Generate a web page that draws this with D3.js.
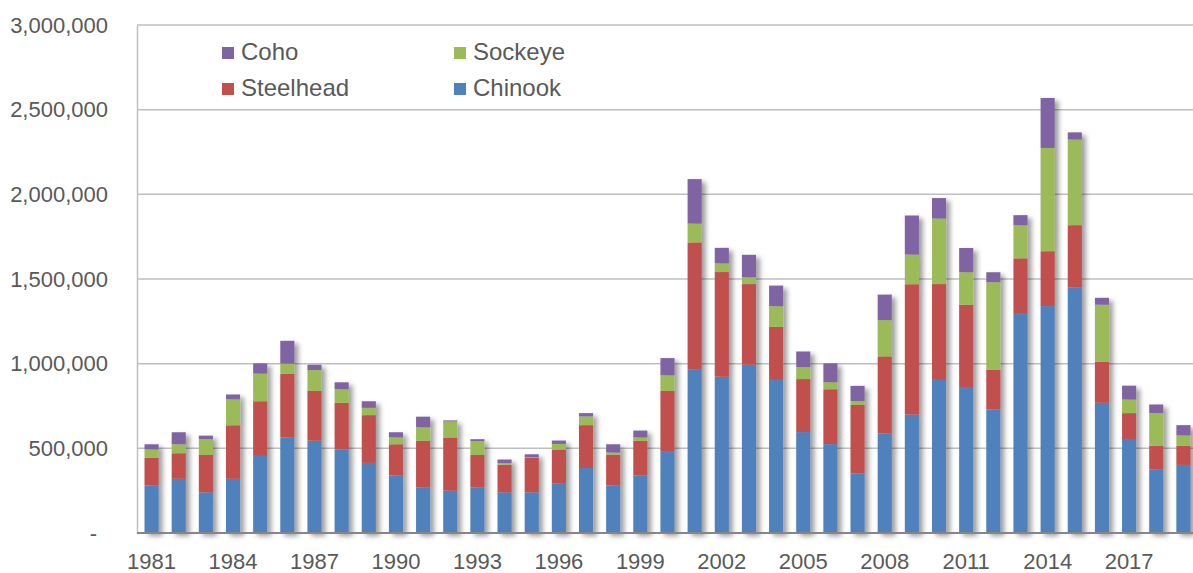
<!DOCTYPE html>
<html>
<head>
<meta charset="utf-8">
<script src="https://cdn.jsdelivr.net/npm/d3@7"></script>
<style>
  body { margin: 0; background: #fff; }
  text { font-family: "Liberation Sans", Arial, sans-serif; fill: #595959; }
</style>
</head>
<body>
<div id="chart"></div>
<script>

var years = [];
for (var yr = 1981; yr <= 2019; yr++) { years.push(yr); }

var chinook   = [281, 320, 240, 320, 455, 565, 545, 494, 414, 340, 270, 250, 270, 240, 240, 291, 384, 281, 340, 484,
                 964, 923, 994, 904, 596, 525, 352, 588, 699, 904, 862, 730, 1299, 1340, 1451, 769, 555, 374, 402];
var steelhead = [163, 151, 221, 316, 323, 376, 294, 274, 282, 184, 274, 314, 191, 163, 206, 202, 253, 180, 204, 355,
                 752, 618, 476, 313, 313, 324, 404, 455, 770, 566, 486, 233, 323, 324, 367, 242, 153, 141, 113];
var sockeye   = [49, 53, 93, 153, 163, 59, 123, 81, 43, 40, 80, 94, 81, 10, 2, 33, 51, 14, 20, 92,
                 111, 51, 40, 122, 71, 41, 23, 214, 175, 387, 192, 518, 195, 610, 505, 337, 80, 193, 61];
var coho      = [31, 71, 21, 29, 61, 135, 32, 41, 39, 31, 63, 7, 12, 21, 17, 20, 20, 49, 41, 102,
                 263, 92, 133, 122, 92, 112, 90, 151, 231, 121, 143, 59, 60, 295, 43, 41, 82, 51, 61];

var seriesNames = ["Chinook", "Steelhead", "Sockeye", "Coho"];
var colors = ["#4F81BD", "#C0504D", "#9BBB59", "#8064A2"];
var yTicks = [0, 500000, 1000000, 1500000, 2000000, 2500000, 3000000];

var width = 1193;
var height = 573;

var rows = [];
for (var i = 0; i < years.length; i++) {
    rows.push({
        year: years[i],
        Chinook: chinook[i] * 1000,
        Steelhead: steelhead[i] * 1000,
        Sockeye: sockeye[i] * 1000,
        Coho: coho[i] * 1000
    });
}

var stacked = d3.stack().keys(seriesNames)(rows);

var xScale = d3.scaleBand()
  .domain(years)
  .range([138, 1197])
  .paddingInner(0.48)
  .paddingOuter(0.24);

var yScale = d3.scaleLinear()
  .domain([0, 3000000])
  .range([533, 25]);

var svg = d3.select("#chart")
        .append("svg")
        .attr("width", width)
        .attr("height", height);

// drop shadow like the office chart
var filter = svg.append("defs").append("filter")
    .attr("id", "shadow")
    .attr("x", "-20%").attr("y", "-5%")
    .attr("width", "160%").attr("height", "115%");
filter.append("feDropShadow")
    .attr("dx", 4).attr("dy", 3)
    .attr("stdDeviation", 2.5)
    .attr("flood-color", "#000")
    .attr("flood-opacity", 0.38);

// gridlines
svg.append("g")
    .selectAll("line")
    .data(yTicks.slice(1))
    .enter()
    .append("line")
    .attr("x1", 137)
    .attr("x2", width)
    .attr("y1", function(d) { return yScale(d); })
    .attr("y2", function(d) { return yScale(d); })
    .attr("stroke", "#bfbfbf")
    .attr("stroke-width", 1.5);

// left axis
var leftAxis = d3.axisLeft(yScale)
    .tickValues(yTicks)
    .tickSize(0)
    .tickPadding(29)
    .tickFormat(function(d) { return d === 0 ? "-" : d3.format(",")(d); });

var yAxisG = svg.append("g")
    .attr("transform", "translate(137,0)")
    .call(leftAxis);
yAxisG.select(".domain").attr("stroke", "#bfbfbf").attr("stroke-width", 1.5);
yAxisG.selectAll("text")
    .style("font-size", "22px")
    .attr("fill", "#595959");
yAxisG.selectAll(".tick")
    .filter(function(d) { return d === 0; })
    .select("text")
    .attr("x", -40);

// bars
var barsG = svg.append("g").attr("filter", "url(#shadow)");
barsG.selectAll("g")
    .data(stacked)
    .enter()
    .append("g")
    .attr("fill", function(d, i) { return colors[i]; })
    .selectAll("rect")
    .data(function(d) { return d; })
    .enter()
    .append("rect")
    .attr("x", function(d) { return xScale(d.data.year); })
    .attr("y", function(d) { return yScale(d[1]); })
    .attr("width", xScale.bandwidth())
    .attr("height", function(d) { return yScale(d[0]) - yScale(d[1]); });

// bottom axis
var bottomAxis = d3.axisBottom(xScale)
    .tickValues(years.filter(function(d, i) { return i % 3 === 0; }))
    .tickSize(0)
    .tickPadding(20);

var xAxisG = svg.append("g")
    .attr("transform", "translate(0,533)")
    .call(bottomAxis);
xAxisG.select(".domain").remove();
xAxisG.append("line")
    .attr("x1", 137).attr("x2", width)
    .attr("y1", 0).attr("y2", 0)
    .attr("stroke", "#868686")
    .attr("stroke-width", 2);
xAxisG.selectAll("text")
    .style("font-size", "22px")
    .attr("fill", "#595959");

// legend (two columns)
var legendItems = [
    {name: "Coho", color: colors[3], x: 222, y: 47},
    {name: "Sockeye", color: colors[2], x: 454, y: 47},
    {name: "Steelhead", color: colors[1], x: 222, y: 83},
    {name: "Chinook", color: colors[0], x: 454, y: 83}
];

var legend = svg.append("g")
    .selectAll("g")
    .data(legendItems)
    .enter()
    .append("g")
    .attr("transform", function(d) { return "translate(" + d.x + "," + d.y + ")"; });

legend.append("rect")
    .attr("width", 12)
    .attr("height", 12)
    .attr("fill", function(d) { return d.color; });

legend.append("text")
    .attr("x", 19)
    .attr("y", 13)
    .style("font-size", "24px")
    .text(function(d) { return d.name; });

</script>
</body>
</html>
